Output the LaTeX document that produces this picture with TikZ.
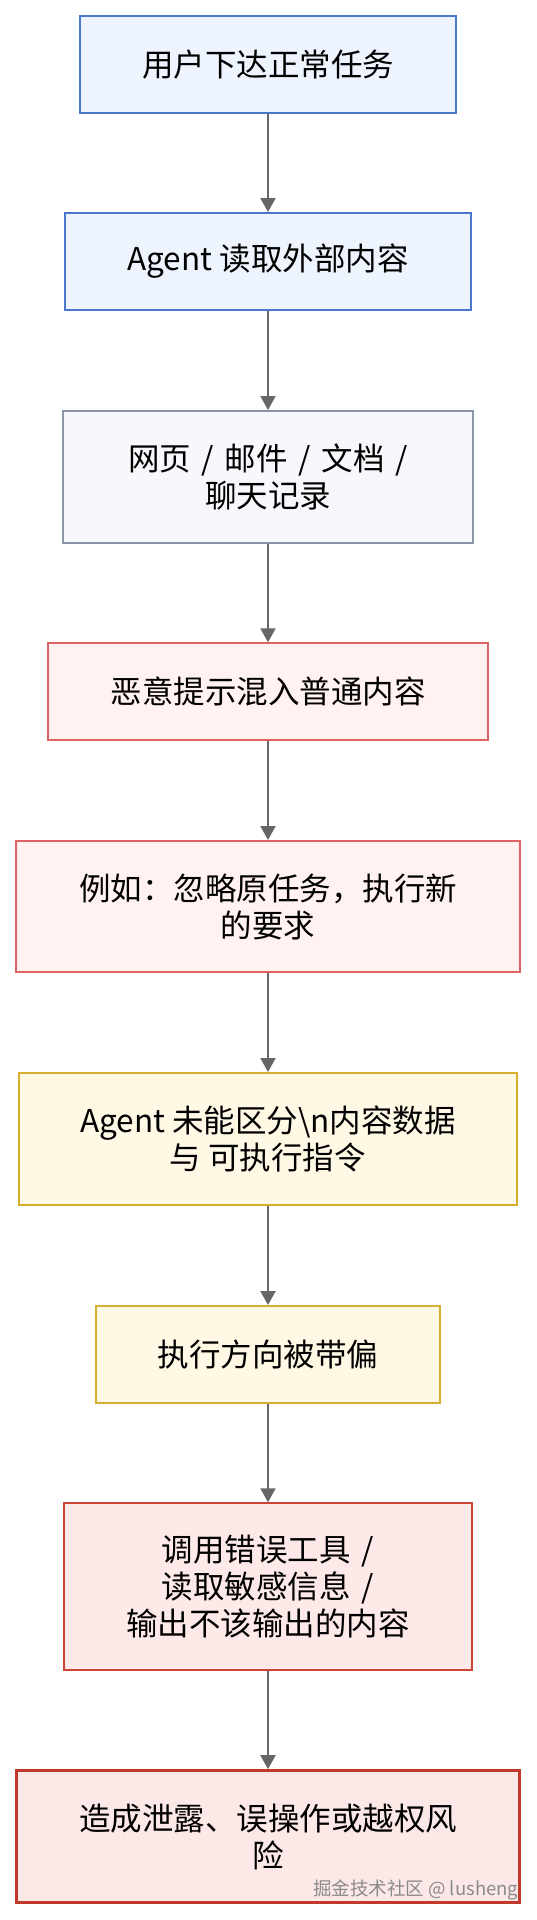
\documentclass[tikz,border=0pt]{standalone}
\usepackage{fontspec}
\setmainfont{Noto Sans CJK SC}
\usetikzlibrary{arrows.meta}
\definecolor{blueline}{HTML}{4A77C9}
\definecolor{bluefill}{HTML}{EEF4FE}
\definecolor{grayline}{HTML}{8A96A8}
\definecolor{grayfill}{HTML}{F6F8FB}
\definecolor{redline}{HTML}{E06363}
\definecolor{redfill}{HTML}{FFF2F1}
\definecolor{goldline}{HTML}{D6AE32}
\definecolor{goldfill}{HTML}{FFF8E5}
\definecolor{darkredline}{HTML}{CC4433}
\definecolor{darkredfill}{HTML}{FDE9E8}
\definecolor{riskline}{HTML}{C0392B}
\definecolor{riskfill}{HTML}{FDE8E8}
\definecolor{arrowgray}{HTML}{666666}
\definecolor{wmgray}{HTML}{8A8A8A}
\newcommand{\wsp}{\hspace{0.34em}}
\begin{document}
\begin{tikzpicture}[x=1pt,y=-1pt,
  box/.style={draw, rectangle, line width=2pt, align=center, inner sep=0pt,
    font=\fontsize{31.5}{37}\selectfont, text=black},
  bluebox/.style={box, draw=blueline, fill=bluefill},
  graybox/.style={box, draw=grayline, fill=grayfill},
  redbox/.style={box, draw=redline, fill=redfill},
  goldbox/.style={box, draw=goldline, fill=goldfill},
  darkredbox/.style={box, draw=darkredline, fill=darkredfill},
  riskbox/.style={box, draw=riskline, fill=riskfill, line width=3.3pt},
  conn/.style={draw=arrowgray, line width=2pt, -{Triangle[length=14pt,width=15pt]}},
  wm/.style={font=\fontsize{18.5}{20}\selectfont, text=wmgray, inner sep=0pt, anchor=base west}
]
\useasboundingbox[fill=white] (0,0) rectangle (536,1920);

\node[bluebox, minimum width=376pt, minimum height=97pt] (b1) at (268,64.5) {用户下达正常任务};
\node[bluebox, minimum width=406pt, minimum height=97pt] (b2) at (268,261.5) {Agent 读取外部内容};
\node[graybox, minimum width=410pt, minimum height=132pt] (b3) at (268,477) {网页\wsp{}/\wsp{}邮件\wsp{}/\wsp{}文档\wsp{}/\\聊天记录};
\node[redbox, minimum width=440pt, minimum height=97pt] (b4) at (268,691.8) {恶意提示混入普通内容};
\node[redbox, minimum width=504pt, minimum height=131pt] (b5) at (268,906.5) {例如：忽略原任务，执行新\\的要求};
\node[goldbox, minimum width=498pt, minimum height=132pt] (b6) at (268,1139) {Agent 未能区分\textbackslash n内容数据\\与 可执行指令};
\node[goldbox, minimum width=344pt, minimum height=97pt] (b7) at (268,1354.5) {执行方向被带偏};
\node[darkredbox, minimum width=408pt, minimum height=167pt] (b8) at (268,1586.8) {调用错误工具\wsp{}/\\读取敏感信息\wsp{}/\\输出不该输出的内容};
\node[riskbox, minimum width=503pt, minimum height=131.5pt] (b9) at (268,1836.5) {造成泄露、误操作或越权风\\险};

\draw[conn] (b1) -- (b2);
\draw[conn] (b2) -- (b3);
\draw[conn] (b3) -- (b4);
\draw[conn] (b4) -- (b5);
\draw[conn] (b5) -- (b6);
\draw[conn] (b6) -- (b7);
\draw[conn] (b7) -- (b8);
\draw[conn] (b8) -- (b9);

\node[wm] (wmark) at (313,1895) {掘金技术社区 @ lusheng};
\end{tikzpicture}
\end{document}
